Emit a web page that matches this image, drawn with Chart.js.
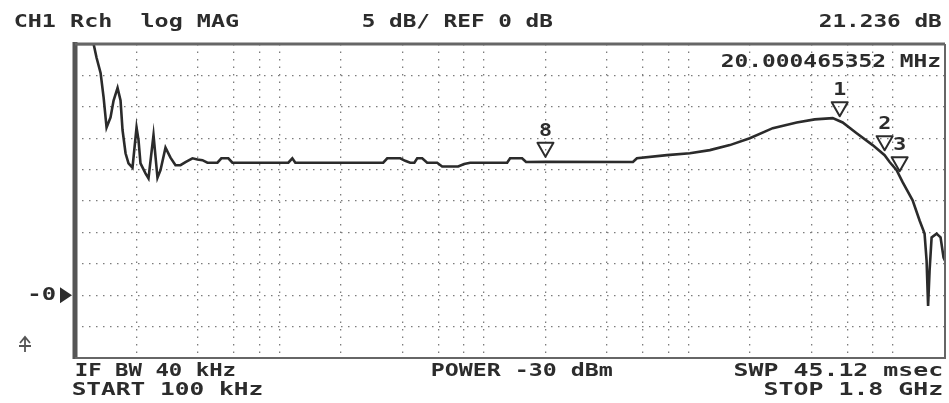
<!DOCTYPE html>
<html>
<head>
<meta charset="utf-8">
<script src="https://cdn.jsdelivr.net/npm/chart.js@4/dist/chart.umd.min.js"></script>
<style>
  html, body { margin: 0; padding: 0; background: #fff; }
  #wrap { width: 949px; height: 403px; }
</style>
</head>
<body>
<div id="wrap"><canvas id="c" width="949" height="403"></canvas></div>
<script>
// Swept receiver magnitude, 100 kHz .. 1.8 GHz (log frequency axis)
const freqHz = [
  1.0e5, 1.233e5, 1.275e5, 1.334e5, 1.380e5, 1.427e5, 1.492e5, 1.544e5, 1.615e5, 1.670e5,
  1.708e5, 1.767e5, 1.827e5, 1.911e5, 2.000e5, 2.045e5, 2.091e5, 2.212e5, 2.288e5, 2.421e5,
  2.532e5, 2.619e5, 2.771e5, 2.931e5, 3.101e5, 3.281e5, 3.470e5, 3.753e5, 3.971e5, 4.201e5,
  4.444e5, 4.973e5, 5.197e5, 5.624e5, 5.888e5, 1.105e6, 1.156e6, 1.196e6, 3.218e6, 3.366e6,
  3.896e6, 4.121e6, 4.361e6, 4.570e6, 4.718e6, 4.991e6, 5.279e6, 5.906e6, 6.249e6, 7.482e6,
  8.007e6, 8.564e6, 1.299e7, 1.343e7, 1.537e7, 1.608e7, 2.0000465352e7, 5.357e7, 5.603e7, 7.852e7,
  1.017e8, 1.274e8, 1.595e8, 1.997e8, 2.587e8, 3.388e8, 4.150e8, 5.081e8, 5.686e8, 6.656e8,
  7.968e8, 9.120e8, 9.647e8, 1.044e9, 1.117e9, 1.250e9, 1.352e9, 1.430e9, 1.463e9, 1.488e9,
  1.513e9, 1.548e9, 1.637e9, 1.712e9, 1.771e9, 1.8e9
];
const magDb = [
  40.0, 40.0, 37.8, 35.4, 31.5, 26.7, 28.3, 31.0, 33.0, 31.0,
  26.3, 22.6, 21.0, 20.3, 26.7, 24.7, 21.0, 19.4, 18.6, 25.5,
  18.7, 19.9, 23.5, 21.9, 20.7, 20.7, 21.2, 21.8, 21.6, 21.5,
  21.1, 21.1, 21.8, 21.8, 21.1, 21.1, 21.8, 21.1, 21.1, 21.8,
  21.8, 21.4, 21.1, 21.1, 21.8, 21.8, 21.1, 21.1, 20.5, 20.5,
  20.9, 21.1, 21.1, 21.8, 21.8, 21.2, 21.236, 21.2, 21.8, 22.3,
  22.6, 23.1, 23.9, 25.0, 26.6, 27.5, 28.0, 28.2, 27.5, 25.8,
  23.9, 22.3, 21.2, 19.9, 18.0, 15.1, 11.9, 9.8, 5.5, -1.7,
  3.9, 9.2, 9.8, 9.2, 6.0, 5.5
];

// Frequency grid: 2, 4, 6, 8, 10 per decade
const gridFreqs = [
  2e5, 4e5, 6e5, 8e5, 1e6, 2e6, 4e6, 6e6, 8e6, 1e7,
  2e7, 4e7, 6e7, 8e7, 1e8, 2e8, 4e8, 6e8, 8e8, 1e9
];

// Markers
const markerNames = ['1', '2', '3', '8'];
const markerFreqs = [5.5e8, 9.12e8, 1.08e9, 2.0000465352e7];

// Annotation strings
const headerLeft = 'CH1 Rch  log MAG';
const headerMid = '5 dB/ REF 0 dB';
const headerRight = '21.236 dB';
const markerReadout = '20.000465352 MHz';
const footerTopLeft = 'IF BW 40 kHz';
const footerTopMid = 'POWER -30 dBm';
const footerTopRight = 'SWP 45.12 msec';
const footerBottomLeft = 'START 100 kHz';
const footerBottomRight = 'STOP 1.8 GHz';
const refLabel = '-0';

const INK = '#2c2c2c';
const FONT = 'bold 18px "DejaVu Sans Mono"';

// Draw a string stretched horizontally so its ink runs from left to right
function spanText(ctx, str, left, right, cy) {
  ctx.save();
  ctx.font = FONT;
  const m = ctx.measureText(str);
  const inkL = -m.actualBoundingBoxLeft;
  const inkW = m.actualBoundingBoxRight + m.actualBoundingBoxLeft;
  const sx = (right - left) / inkW;
  ctx.translate(left, cy);
  ctx.scale(sx, 1);
  ctx.textBaseline = 'middle';
  ctx.textAlign = 'left';
  ctx.fillStyle = INK;
  ctx.fillText(str, -inkL, 0);
  ctx.restore();
}

function centerText(ctx, str, cx, cy) {
  ctx.save();
  ctx.font = FONT;
  ctx.textBaseline = 'middle';
  ctx.textAlign = 'center';
  ctx.fillStyle = INK;
  ctx.translate(cx, cy);
  ctx.scale(1.2, 1);
  ctx.fillText(str, 0, 0);
  ctx.restore();
}

function traceAt(f) {
  const lf = Math.log10(f);
  for (let i = 1; i < freqHz.length; i++) {
    if (freqHz[i] >= f) {
      const a = Math.log10(freqHz[i - 1]), b = Math.log10(freqHz[i]);
      const t = (lf - a) / (b - a);
      return magDb[i - 1] + t * (magDb[i] - magDb[i - 1]);
    }
  }
  return magDb[magDb.length - 1];
}

const instrumentPlugin = {
  id: 'instrument',
  afterDatasetsDraw(chart) {
    const ctx = chart.ctx;
    const area = chart.chartArea;
    const xs = chart.scales.x, ys = chart.scales.y;

    // Markers: open triangles sitting on the trace, number above
    ctx.save();
    ctx.strokeStyle = INK;
    ctx.lineWidth = 2;
    ctx.lineJoin = 'round';
    markerFreqs.forEach((f, i) => {
      const x = xs.getPixelForValue(f);
      const y = ys.getPixelForValue(traceAt(f));
      const tip = y - 5;
      ctx.beginPath();
      ctx.moveTo(x - 8, tip - 14);
      ctx.lineTo(x + 8, tip - 14);
      ctx.lineTo(x, tip);
      ctx.closePath();
      ctx.stroke();
      centerText(ctx, markerNames[i], x, tip - 26);
    });
    ctx.restore();

    // Frame
    ctx.save();
    ctx.strokeStyle = '#555';
    ctx.lineWidth = 5;
    ctx.beginPath();
    ctx.moveTo(area.left, area.top - 2);
    ctx.lineTo(area.left, area.bottom + 1);
    ctx.stroke();
    ctx.strokeStyle = '#666';
    ctx.lineWidth = 3;
    ctx.beginPath();
    ctx.moveTo(area.left, area.top);
    ctx.lineTo(area.right, area.top);
    ctx.stroke();
    ctx.lineWidth = 2;
    ctx.beginPath();
    ctx.moveTo(area.right, area.top);
    ctx.lineTo(area.right, area.bottom);
    ctx.lineTo(area.left, area.bottom);
    ctx.stroke();
    ctx.restore();
  },
  afterDraw(chart) {
    const ctx = chart.ctx;
    const ys = chart.scales.y;
    const area = chart.chartArea;

    spanText(ctx, headerLeft, 15, 238, 22);
    spanText(ctx, headerMid, 363, 553, 22);
    spanText(ctx, headerRight, 820, 942, 22);
    spanText(ctx, markerReadout, 722, 940, 62);
    spanText(ctx, footerTopLeft, 76, 235, 371);
    spanText(ctx, footerTopMid, 432, 613, 371);
    spanText(ctx, footerTopRight, 735, 942, 371);
    spanText(ctx, footerBottomLeft, 73, 262, 390);
    spanText(ctx, footerBottomRight, 765, 942, 390);

    // Reference level pointer at 0 dB
    const yRef = ys.getPixelForValue(0);
    spanText(ctx, refLabel, 30, 55, yRef);
    ctx.save();
    ctx.fillStyle = INK;
    ctx.beginPath();
    ctx.moveTo(area.left - 15, yRef - 8);
    ctx.lineTo(area.left - 15, yRef + 8);
    ctx.lineTo(area.left - 3, yRef);
    ctx.closePath();
    ctx.fill();

    // small up-arrow symbol below the pointer
    ctx.strokeStyle = '#555';
    ctx.lineWidth = 1.8;
    ctx.beginPath();
    ctx.moveTo(25, 352); ctx.lineTo(25, 338);
    ctx.moveTo(20, 343); ctx.lineTo(25, 337); ctx.lineTo(30, 343);
    ctx.moveTo(19, 346); ctx.lineTo(31, 346);
    ctx.stroke();
    ctx.restore();
  }
};

new Chart(document.getElementById('c'), {
  type: 'line',
  data: {
    datasets: [{
      data: freqHz.map((f, i) => ({ x: f, y: magDb[i] })),
      borderColor: '#2b2b2b',
      borderWidth: 2.6,
      pointRadius: 0,
      tension: 0,
      fill: false
    }]
  },
  options: {
    responsive: false,
    animation: false,
    devicePixelRatio: 1,
    layout: { padding: { left: 75, right: 4, top: 44, bottom: 45 } },
    plugins: { legend: { display: false }, tooltip: { enabled: false } },
    scales: {
      x: {
        type: 'logarithmic',
        min: 1e5,
        max: 1.8e9,
        afterBuildTicks: (s) => { s.ticks = gridFreqs.map(v => ({ value: v })); },
        afterFit: (s) => { s.height = 0; },
        ticks: { display: false },
        grid: { drawTicks: false, color: '#7c7c7c', lineWidth: 1.3 },
        border: { display: false, dash: [1.5, 6] }
      },
      y: {
        type: 'linear',
        min: -10,
        max: 40,
        ticks: { display: false, stepSize: 5 },
        afterFit: (s) => { s.width = 0; },
        grid: { drawTicks: false, color: '#7c7c7c', lineWidth: 1.3 },
        border: { display: false, dash: [1.5, 5.5] }
      }
    }
  },
  plugins: [instrumentPlugin]
});
</script>
</body>
</html>
